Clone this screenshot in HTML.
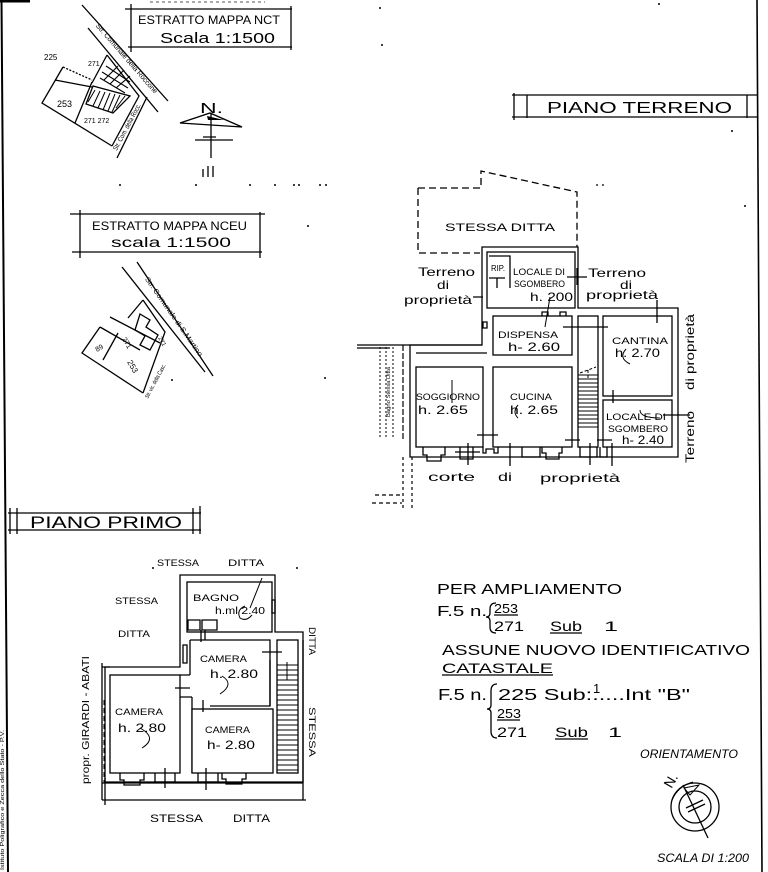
<!DOCTYPE html>
<html><head><meta charset="utf-8"><style>
html,body{margin:0;padding:0;background:#fff;}
svg{display:block;}
text{font-family:"Liberation Sans",sans-serif;fill:#000;}
.it{font-style:italic;}
</style></head><body>
<svg width="768" height="872" viewBox="0 0 768 872" xmlns="http://www.w3.org/2000/svg">
<rect width="768" height="872" fill="#fff"/>
<!-- borders -->
<path d="M1.5,0 L8,872" stroke="#000" stroke-width="2" fill="none"/>
<path d="M0,1 H30" stroke="#000" stroke-width="3"/>
<path d="M757,0 L762,872" stroke="#000" stroke-width="1.6" fill="none"/>
<path d="M150,2 H265" stroke="#555" stroke-width="1" stroke-dasharray="3,3"/>
<text transform="translate(4,800) rotate(-90)" font-size="5" text-anchor="middle" textLength="140" lengthAdjust="spacingAndGlyphs">Istituto Poligrafico e Zecca dello Stato - P.V.</text>

<g fill="none" stroke="#000" stroke-width="1.3">
<!-- ESTRATTO MAPPA NCT box -->
<path d="M125,9 H292 M128,47 H292 M131,4 V52 M291,6 V50"/>
<!-- map 1 -->
<path d="M82,5 L168,101 M88,28 L158,112 M107,55 L139,96 L112,146 M147,97 L117,158"/>
<path d="M63,67 L92,80" stroke-dasharray="2,1.5"/>
<path d="M63,67 L42,103 L112,146 M55,80 L92,87 M92,82 L75,123 M107,55 L92,83"/>
<path d="M93,86 L130,96 L113,113 L86,104 Z"/>
<path d="M95,90 L88,102 M100,91 L93,106 M105,92 L98,108 M110,93 L103,110 M115,94 L108,111 M120,95 L112,112 M125,96 L116,108" stroke-width="1"/>
<path d="M102,72 L128,88 M100,78 L125,93 M106,66 L130,82 M104,80 L118,66 M110,84 L124,70 M116,88 L130,76" stroke-width="1.1"/>
<!-- north arrow 1 -->
<path d="M180,123 L210,113 L242,127 Z"/>
<path d="M195,140 H233 M203,137 H216 M211,113 V158 M203,169 V177 M208,166 V177 M213,166 V177"/>
</g>
<path d="M207,116 L224,120 L208,120 Z" fill="#000"/>
<text x="200" y="113" font-size="15" textLength="23" lengthAdjust="spacingAndGlyphs">N.</text>

<text x="138" y="24" font-size="12" textLength="142" lengthAdjust="spacingAndGlyphs">ESTRATTO  MAPPA  NCT</text>
<text x="160" y="43" font-size="15" textLength="115" lengthAdjust="spacingAndGlyphs">Scala  1:1500</text>
<text transform="translate(125,60) rotate(49)" font-size="7" text-anchor="middle" textLength="90" lengthAdjust="spacingAndGlyphs">Str. Comunale della Roccone</text>
<text transform="translate(129,128) rotate(-62)" font-size="7" text-anchor="middle" textLength="52" lengthAdjust="spacingAndGlyphs">Str. Com. della Rocc.</text>
<text x="44" y="60" font-size="8">225</text>
<text x="88" y="66" font-size="7">271</text>
<text x="57" y="107" font-size="9">253</text>
<text x="84" y="123" font-size="7">271 272</text>

<!-- dotted line -->
<g fill="#000">
<circle cx="120" cy="185" r="1"/><circle cx="196" cy="185" r="1"/><circle cx="250" cy="185" r="1"/><circle cx="275" cy="185" r="1"/><circle cx="294" cy="185" r="1"/><circle cx="299" cy="185" r="1"/><circle cx="320" cy="185" r="1"/><circle cx="326" cy="185" r="1"/>
<circle cx="380" cy="8" r="1"/><circle cx="382" cy="45" r="1"/><circle cx="659" cy="4" r="1"/><circle cx="308" cy="226" r="1"/><circle cx="325" cy="378" r="1"/><circle cx="172" cy="380" r="1"/><circle cx="732" cy="131" r="1"/><circle cx="745" cy="206" r="1"/><circle cx="153" cy="568" r="1"/><circle cx="297" cy="568" r="1"/>
</g>

<!-- ESTRATTO MAPPA NCEU box -->
<g fill="none" stroke="#000" stroke-width="1.3">
<path d="M70,214 H265 M72,252 H262 M80,210 V258 M260,212 V258"/>
<!-- map 2 -->
<path d="M122,267 L205,372 M137,262 L213,376"/>
<path d="M100,327 L82,353 L143,393 M110,317 L160,343 M100,327 L140,350 M143,300 L128,318 M143,300 L165,332 L143,393 M103,360 L118,333"/>
<path d="M140,314 L150,320 L146,327 L158,335 L150,350 L140,345 L145,336 L135,330 Z"/>
</g>
<text x="92" y="230" font-size="12" textLength="155" lengthAdjust="spacingAndGlyphs">ESTRATTO MAPPA NCEU</text>
<text x="111" y="247" font-size="14" textLength="120" lengthAdjust="spacingAndGlyphs">scala  1:1500</text>
<text transform="translate(172,318) rotate(55)" font-size="7" text-anchor="middle" textLength="95" lengthAdjust="spacingAndGlyphs">Str. Comunale di S.Martino</text>
<text transform="translate(157,382) rotate(-62)" font-size="6" text-anchor="middle" textLength="38" lengthAdjust="spacingAndGlyphs">Str. vic. della Casc.</text>
<text transform="translate(97,352) rotate(-30)" font-size="7">89</text>
<text transform="translate(122,339) rotate(60)" font-size="7">271</text>
<text transform="translate(127,362) rotate(60)" font-size="8">253</text>
<text transform="translate(158,338) rotate(60)" font-size="6">271</text>

<!-- PIANO TERRENO -->
<g fill="none" stroke="#000" stroke-width="1.3">
<path d="M512,95 H757 M512,117 H757 M514,93 V120 M527,95 V118 M747,95 V118"/>
</g>
<text x="547" y="113" font-size="16" textLength="185" lengthAdjust="spacingAndGlyphs">PIANO  TERRENO</text>

<!-- GROUND FLOOR PLAN -->
<g fill="none" stroke="#000" stroke-width="1.3">
<path d="M418,188 H481 V171 L577,192 V248 M418,188 V253 H480" stroke-dasharray="7,4"/>
<path d="M596,185 h2 M602,185 h2" />
<path d="M482,247 H578 V308 H678 V457 H410 V345 H482 Z" fill="#fff"/>
<path d="M357,345 H482 M357,348 H390"/>
<rect x="487" y="252" width="88" height="56" fill="#fff"/>
<rect x="493" y="316" width="79" height="39" fill="#fff"/>
<rect x="416" y="367" width="67" height="80" fill="#fff"/>
<rect x="493" y="367" width="79" height="80" fill="#fff"/>
<rect x="578" y="316" width="20" height="131" fill="#fff"/>
<rect x="603" y="316" width="69" height="80" fill="#fff"/>
<rect x="603" y="400" width="69" height="47" fill="#fff"/>
<path d="M416,353 H487"/>
<path d="M489,256 H510 V288 M489,278 H505 M497,278 V288"/>
<path d="M483,322 h4 v6 h-4 z"/>
<path d="M542,316 v-4 h6 v4 M560,316 v-4 h6 v4"/>
<path d="M578,375H598M578,379H598M578,383H598M578,387H598M578,391H598M578,395H598M578,399H598M578,403H598M578,407H598M578,411H598M578,415H598M578,419H598M578,423H598M578,427H598" stroke-width="1"/>
<path d="M580,373 L596,367 M588,370 V378" stroke-width="1" stroke-dasharray="3,2"/>
<path d="M563,327 H608 M477,435 H498 M565,440 H580 M597,440 H612 M613,390 V403"/>
<path d="M423,447 v8 h4 v6 h14 v-6 h4 v-8 M460,447 v12 h13 v-12 M483,447 v6 h3 v-4 h8 v4 h4 v-6 M522,447 v10 h18 v-10 M542,447 v6 h4 v6 h13 v-6 h3 v-6 M580,447 v10 h17 v-10 M600,447 v10 h7 v-10"/>
<path d="M468,443 V465 M510,443 V466 M590,443 V465 M612,443 V466 M455,452 H480"/>
<path d="M473,297 H483 M567,277 H587 M577,268 V285 M657,300 V323 M663,415 H690"/>
<path d="M550,297 L545,327" stroke-width="1"/>
<path d="M452,380 V403" stroke-width="1"/>
<path d="M626,349 Q618,358 630,364" stroke-width="1"/>
<path d="M518,405 Q512,412 518,418" stroke-width="1"/>
<path d="M640,410 Q640,418 660,418" stroke-width="1"/>
<path d="M380,347 V438 M386,347 V438 M393,347 V438" stroke-width="1" stroke-dasharray="2,2"/>
<path d="M403,345 V440" stroke-width="1.2" stroke-dasharray="6,2"/>
<path d="M403,457 V510 M412,457 V510" stroke-width="1.2" stroke-dasharray="3,3"/>
<path d="M375,495 H403 M372,503 H402" stroke-width="1.2" stroke-dasharray="4,3"/>
</g>
<text transform="translate(390,392) rotate(-90)" font-size="5" text-anchor="middle" textLength="50" lengthAdjust="spacingAndGlyphs">Bagno Stessa Ditta</text>

<text x="445" y="231" font-size="11" textLength="110" lengthAdjust="spacingAndGlyphs">STESSA   DITTA</text>
<text x="418" y="276" font-size="12" textLength="57" lengthAdjust="spacingAndGlyphs">Terreno</text>
<text x="437" y="289" font-size="12" textLength="12" lengthAdjust="spacingAndGlyphs">di</text>
<text x="404" y="304" font-size="12" textLength="68" lengthAdjust="spacingAndGlyphs">proprietà</text>
<text x="588" y="277" font-size="12" textLength="58" lengthAdjust="spacingAndGlyphs">Terreno</text>
<text x="620" y="289" font-size="12" textLength="12" lengthAdjust="spacingAndGlyphs">di</text>
<text x="586" y="299" font-size="12" textLength="72" lengthAdjust="spacingAndGlyphs">proprietà</text>
<text x="491" y="271" font-size="8" textLength="14" lengthAdjust="spacingAndGlyphs">RIP.</text>
<text x="513" y="275" font-size="9" textLength="52" lengthAdjust="spacingAndGlyphs">LOCALE DI</text>
<text x="514" y="287" font-size="9" textLength="51" lengthAdjust="spacingAndGlyphs">SGOMBERO</text>
<text x="530" y="301" font-size="12" textLength="43" lengthAdjust="spacingAndGlyphs">h. 200</text>
<text x="498" y="338" font-size="9" textLength="60" lengthAdjust="spacingAndGlyphs">DISPENSA</text>
<text x="508" y="351" font-size="12" textLength="52" lengthAdjust="spacingAndGlyphs">h- 2.60</text>
<text x="612" y="344" font-size="9" textLength="56" lengthAdjust="spacingAndGlyphs">CANTINA</text>
<text x="615" y="357" font-size="12" textLength="45" lengthAdjust="spacingAndGlyphs">h. 2.70</text>
<text x="416" y="400" font-size="9" textLength="64" lengthAdjust="spacingAndGlyphs">SOGGIORNO</text>
<text x="418" y="414" font-size="12" textLength="50" lengthAdjust="spacingAndGlyphs">h. 2.65</text>
<text x="510" y="400" font-size="9" textLength="42" lengthAdjust="spacingAndGlyphs">CUCINA</text>
<text x="510" y="414" font-size="12" textLength="48" lengthAdjust="spacingAndGlyphs">h. 2.65</text>
<text x="606" y="420" font-size="9" textLength="60" lengthAdjust="spacingAndGlyphs">LOCALE DI</text>
<text x="608" y="432" font-size="9" textLength="60" lengthAdjust="spacingAndGlyphs">SGOMBERO</text>
<text x="622" y="444" font-size="12" textLength="42" lengthAdjust="spacingAndGlyphs">h- 2.40</text>
<text x="428" y="481" font-size="12" textLength="47" lengthAdjust="spacingAndGlyphs">corte</text>
<text x="498" y="481" font-size="12" textLength="14" lengthAdjust="spacingAndGlyphs">di</text>
<text x="540" y="482" font-size="12" textLength="80" lengthAdjust="spacingAndGlyphs">proprietà</text>
<text transform="translate(694,352) rotate(-90)" font-size="12" text-anchor="middle" textLength="76" lengthAdjust="spacingAndGlyphs">di  proprietà</text>
<text transform="translate(694,437) rotate(-90)" font-size="12" text-anchor="middle" textLength="52" lengthAdjust="spacingAndGlyphs">Terreno</text>

<!-- PIANO PRIMO -->
<g fill="none" stroke="#000" stroke-width="1.3">
<path d="M8,513 H201 M8,530 H201 M10,508 V534 M17,508 V534 M193,508 V534 M200,506 V534"/>
</g>
<text x="30" y="528" font-size="17" textLength="152" lengthAdjust="spacingAndGlyphs">PIANO  PRIMO</text>

<!-- FIRST FLOOR PLAN -->
<g fill="none" stroke="#000" stroke-width="1.3">
<path d="M180,575 H275 V632 H303 V782 H105 V667 H180 Z" fill="#fff"/>
<rect x="187" y="582" width="85" height="50" fill="#fff"/>
<path d="M190,640 H270 V706 H210 M190,640 V675 M192,697 V773" fill="#fff"/>
<rect x="110" y="675" width="70" height="98" fill="#fff"/>
<rect x="192" y="709" width="81" height="64" fill="#fff"/>
<rect x="277" y="640" width="21" height="133" fill="#fff"/>
<path d="M180,675 H190 M180,697 H192"/>
<path d="M188,620 h12 v10 h-12 z M202,620 h15 v10 h-15 z M201,630 v12 M205,630 v10"/>
<path d="M272,600 h3 v13 h-3 z"/>
<path d="M183,645 h4 v18 h-4 z"/>
<path d="M277,665H298M277,670H298M277,675H298M277,680H298M277,685H298M277,690H298M277,695H298M277,700H298M277,705H298M277,710H298M277,715H298M277,720H298M277,725H298M277,730H298M277,735H298M277,740H298M277,745H298M277,750H298M277,755H298M277,760H298M277,765H298M277,770H298" stroke-width="1"/>
<path d="M287,662 V680" stroke-width="1"/>
<path d="M262,652 H282 M175,688 H190 M203,700 V712 M270,660 V706"/>
<path d="M120,773 v7 h4 v5 h16 v-5 h4 v-7 M155,773 v9 h20 v-9 M198,773 v9 h20 v-9 M222,773 v6 h4 v5 h16 v-5 h4 v-6"/>
<path d="M165,768 V788 M206,768 V790"/>
<path d="M102,783 H303 M102,800 H306 M105,778 V805 M102,663 V800 M102,667 H110 M303,640 V800"/>
<path d="M104,700 V783" stroke-dasharray="5,3" stroke-width="1"/>
<path d="M262,578 L250,608" stroke-width="1"/>
<path d="M245,606 Q236,610 240,618 Q246,622 252,615" stroke-width="1"/>
<path d="M222,676 Q235,684 220,694" stroke-width="1"/>
<path d="M140,728 Q158,738 142,748" stroke-width="1"/>
</g>
<text x="157" y="566" font-size="9" textLength="42" lengthAdjust="spacingAndGlyphs">STESSA</text>
<text x="228" y="566" font-size="9" textLength="36" lengthAdjust="spacingAndGlyphs">DITTA</text>
<text x="115" y="604" font-size="9" textLength="43" lengthAdjust="spacingAndGlyphs">STESSA</text>
<text x="118" y="637" font-size="9" textLength="32" lengthAdjust="spacingAndGlyphs">DITTA</text>
<text x="193" y="601" font-size="9" textLength="46" lengthAdjust="spacingAndGlyphs">BAGNO</text>
<text x="215" y="614" font-size="10" textLength="50" lengthAdjust="spacingAndGlyphs">h.ml 2.40</text>
<text x="200" y="662" font-size="9" textLength="47" lengthAdjust="spacingAndGlyphs">CAMERA</text>
<text x="210" y="678" font-size="12" textLength="48" lengthAdjust="spacingAndGlyphs">h. 2.80</text>
<text x="115" y="715" font-size="9" textLength="48" lengthAdjust="spacingAndGlyphs">CAMERA</text>
<text x="118" y="732" font-size="12" textLength="48" lengthAdjust="spacingAndGlyphs">h. 2.80</text>
<text x="205" y="733" font-size="9" textLength="45" lengthAdjust="spacingAndGlyphs">CAMERA</text>
<text x="207" y="749" font-size="12" textLength="48" lengthAdjust="spacingAndGlyphs">h- 2.80</text>
<text transform="translate(89,720) rotate(-90)" font-size="10" text-anchor="middle" textLength="128" lengthAdjust="spacingAndGlyphs">propr. GIRARDI - ABATI</text>
<text transform="translate(309,641) rotate(90)" font-size="9" text-anchor="middle" textLength="28" lengthAdjust="spacingAndGlyphs">DITTA</text>
<text transform="translate(309,732) rotate(90)" font-size="9" text-anchor="middle" textLength="50" lengthAdjust="spacingAndGlyphs">STESSA</text>
<text x="150" y="822" font-size="11" textLength="53" lengthAdjust="spacingAndGlyphs">STESSA</text>
<text x="233" y="822" font-size="11" textLength="37" lengthAdjust="spacingAndGlyphs">DITTA</text>

<!-- TEXT BLOCK -->
<text x="437" y="594" font-size="15" textLength="185" lengthAdjust="spacingAndGlyphs">PER  AMPLIAMENTO</text>
<text x="437" y="616" font-size="15" textLength="50" lengthAdjust="spacingAndGlyphs">F.5 n.</text>
<text x="494" y="613" font-size="13" textLength="24" lengthAdjust="spacingAndGlyphs">253</text>
<text x="494" y="631" font-size="14" textLength="30" lengthAdjust="spacingAndGlyphs">271</text>
<text x="550" y="631" font-size="14" textLength="32" lengthAdjust="spacingAndGlyphs">Sub</text>
<text x="604" y="631" font-size="14" textLength="14" lengthAdjust="spacingAndGlyphs">1</text>
<text x="442" y="655" font-size="15" textLength="308" lengthAdjust="spacingAndGlyphs">ASSUNE  NUOVO  IDENTIFICATIVO</text>
<text x="442" y="673" font-size="14" textLength="111" lengthAdjust="spacingAndGlyphs">CATASTALE</text>
<text x="438" y="700" font-size="16" textLength="49" lengthAdjust="spacingAndGlyphs">F.5 n.</text>
<text x="498" y="700" font-size="16" textLength="192" lengthAdjust="spacingAndGlyphs">225 Sub:.....Int "B"</text>
<text x="593" y="693" font-size="13">1</text>
<text x="497" y="718" font-size="13" textLength="24" lengthAdjust="spacingAndGlyphs">253</text>
<text x="497" y="737" font-size="14" textLength="30" lengthAdjust="spacingAndGlyphs">271</text>
<text x="555" y="737" font-size="14" textLength="33" lengthAdjust="spacingAndGlyphs">Sub</text>
<text x="608" y="737" font-size="14" textLength="14" lengthAdjust="spacingAndGlyphs">1</text>
<g fill="none" stroke="#000" stroke-width="1.3">
<path d="M496,603 Q490,603 490,609 L490,613 Q490,617 486,617 Q490,617 490,621 L490,627 Q490,633 496,633"/>
<path d="M497,684 Q491,684 491,691 L491,705 Q491,709 487,709 Q491,709 491,713 L491,731 Q491,738 497,738"/>
<path d="M494,615 H518 M550,633 H582 M442,675 H553 M497,720 H520 M555,739 H588"/>
</g>

<!-- ORIENTAMENTO -->
<text x="640" y="758" font-size="12" class="it" textLength="98" lengthAdjust="spacingAndGlyphs">ORIENTAMENTO</text>
<g fill="none" stroke="#000" stroke-width="1.3">
<circle cx="695" cy="807" r="24"/>
<circle cx="695" cy="807" r="16"/>
<path d="M683,785 L708,838"/>
<path d="M686,808 L703,800 M688,812 L705,804"/>
<path d="M672,800 Q678,786 693,782" stroke-width="1.1"/>
<path d="M684,788 L699,785 L690,795 Z" stroke-width="1"/>
</g>
<text transform="translate(675,783) rotate(-60)" font-size="14" text-anchor="middle">N.</text>
<text x="657" y="862" font-size="12" class="it" textLength="92" lengthAdjust="spacingAndGlyphs">SCALA DI 1:200</text>
</svg>
</body></html>
